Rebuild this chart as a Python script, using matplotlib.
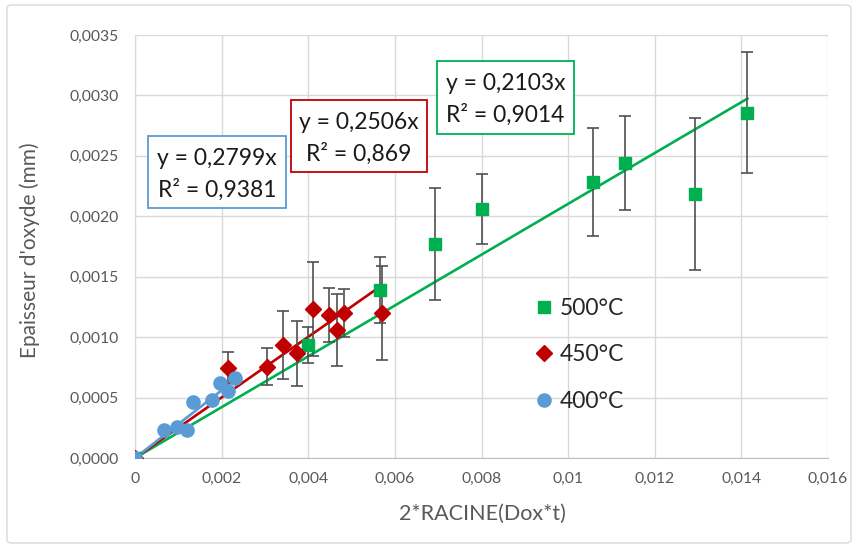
import matplotlib
matplotlib.use('Agg')
import matplotlib.pyplot as plt
from matplotlib.patches import Rectangle, FancyBboxPatch
import numpy as np

# =========================
# DATA
# =========================
x_500 = [0, 0.0040, 0.00565, 0.00693, 0.0080, 0.01058, 0.01131, 0.01294, 0.01414]
y_500 = [0, 0.000935, 0.00139, 0.00177, 0.00206, 0.00228, 0.00244, 0.002185, 0.002858]
err_500 = [0, 0.00015, 0.00027, 0.000465, 0.00029, 0.000447, 0.00039, 0.00063, 0.0005]

x_450 = [0, 0.00214, 0.00304, 0.00341, 0.00373, 0.00412, 0.00449, 0.00466, 0.00483, 0.0057]
y_450 = [0, 0.000748, 0.000756, 0.000935, 0.000867, 0.001233, 0.001184, 0.00106, 0.0012, 0.0012]
err_450 = [0, 0.000125, 0.000155, 0.00028, 0.00027, 0.00039, 0.000225, 0.0003, 0.0002, 0.00039]

x_400 = [0, 0.00067, 0.00096, 0.00119, 0.00135, 0.00177, 0.00196, 0.00215, 0.00231]
y_400 = [0, 0.000232, 0.000259, 0.000235, 0.000466, 0.00048, 0.000618, 0.000555, 0.00066]

slopes = {'500': 0.2103, '450': 0.2506, '400': 0.2799}
r2 = {'500': '0,9014', '450': '0,869', '400': '0,9381'}

x_ticks = [0, 0.002, 0.004, 0.006, 0.008, 0.01, 0.012, 0.014, 0.016]
x_ticklabels = ['0', '0,002', '0,004', '0,006', '0,008', '0,01', '0,012', '0,014', '0,016']
y_ticks = [0, 0.0005, 0.001, 0.0015, 0.002, 0.0025, 0.003, 0.0035]
y_ticklabels = ['0,0000', '0,0005', '0,0010', '0,0015', '0,0020', '0,0025', '0,0030', '0,0035']

# =========================
# STYLE
# =========================
GREEN = '#00b050'
RED = '#c00000'
BLUE = '#5b9bd5'
GRAY = '#595959'
GRID = '#d9d9d9'
ERR = '#505050'

plt.rcParams['font.family'] = ['Lato', 'DejaVu Sans']

W, H = 857, 549
fig = plt.figure(figsize=(W / 100, H / 100), dpi=100)

def fx(px):
    return px / W

def fy(py):
    return 1 - py / H

# chart area border
fig.patches.append(FancyBboxPatch((fx(7), fy(543)), fx(851) - fx(7), fy(5) - fy(543),
                                  boxstyle='round,pad=0,rounding_size=0.006',
                                  transform=fig.transFigure, fill=False,
                                  edgecolor=GRID, linewidth=1.0))

ax = fig.add_axes([fx(135), fy(458), fx(828) - fx(135), fy(35) - fy(458)])
ax.set_xlim(0, 0.016)
ax.set_ylim(0, 0.0035)

ax.set_xticks(x_ticks)
ax.set_xticklabels(x_ticklabels)
ax.set_yticks(y_ticks)
ax.set_yticklabels(y_ticklabels)
ax.tick_params(axis='both', length=0, colors=GRAY, labelsize=11.3)
ax.tick_params(axis='y', pad=12)
ax.tick_params(axis='x', pad=10)
ax.grid(True, color=GRID, linewidth=1.0)
ax.set_axisbelow(True)
for s in ['top', 'right']:
    ax.spines[s].set_visible(False)
ax.spines['left'].set_color(GRID)
ax.spines['bottom'].set_color('#bfbfbf')

# =========================
# TRENDLINES
# =========================
for key, xs, col in [('500', x_500, GREEN), ('450', x_450, RED), ('400', x_400, BLUE)]:
    xl = np.array([0, max(xs)])
    ax.plot(xl, slopes[key] * xl, color=col, linewidth=1.9, zorder=2)

# =========================
# SERIES
# =========================
ax.errorbar(x_500, y_500, yerr=err_500, fmt='none', ecolor=ERR, elinewidth=1.2,
            capsize=4, capthick=1.2, zorder=3)
ax.errorbar(x_450, y_450, yerr=err_450, fmt='none', ecolor=ERR, elinewidth=1.2,
            capsize=4, capthick=1.2, zorder=3)

ax.plot(x_500, y_500, 's', color=GREEN, markersize=9, linestyle='none', zorder=4, label='500°C')
ax.plot(x_450, y_450, 'D', color=RED, markersize=8.5, linestyle='none', zorder=5, label='450°C')
ax.plot(x_400, y_400, 'o', color=BLUE, markersize=9.5, linestyle='none', zorder=6, label='400°C')

ax.legend(loc='upper left',
          bbox_to_anchor=((fx(527) - fx(135)) / (fx(828) - fx(135)), (fy(289) - fy(458)) / (fy(35) - fy(458))),
          frameon=False, fontsize=16.5, handlelength=0.7, handletextpad=0.35,
          labelspacing=1.1, labelcolor='#262626', borderaxespad=0)

# =========================
# EQUATION BOXES
# =========================
boxes = [
    ('400', BLUE, 148, 136, 286, 208),
    ('450', RED, 291, 100, 427, 172),
    ('500', GREEN, 437, 61, 574, 134),
]
for key, col, x0, y0, x1, y1 in boxes:
    fig.patches.append(Rectangle((fx(x0), fy(y1)), fx(x1) - fx(x0), fy(y0) - fy(y1),
                                 transform=fig.transFigure, fill=True, facecolor='white',
                                 edgecolor=col, linewidth=1.3, zorder=10))
    eq = 'y = ' + ('%.4f' % slopes[key]).replace('.', ',') + 'x'
    fig.text(fx((x0 + x1) / 2), fy(y0 + (y1 - y0) * 0.31), eq, ha='center', va='center',
             fontsize=16.5, color='#1a1a1a', zorder=11)
    fig.text(fx((x0 + x1) / 2), fy(y0 + (y1 - y0) * 0.74), 'R² = ' + r2[key], ha='center', va='center',
             fontsize=16.5, color='#1a1a1a', zorder=11)

# =========================
# AXIS TITLES
# =========================
fig.text(fx(30), fy(250), "Epaisseur d'oxyde (mm)", rotation=90, ha='center', va='center',
         fontsize=15, color=GRAY)
fig.text(fx(482), fy(514), '2*RACINE(Dox*t)', ha='center', va='center',
         fontsize=15.5, color=GRAY)

fig.savefig('out.png', dpi=100)
